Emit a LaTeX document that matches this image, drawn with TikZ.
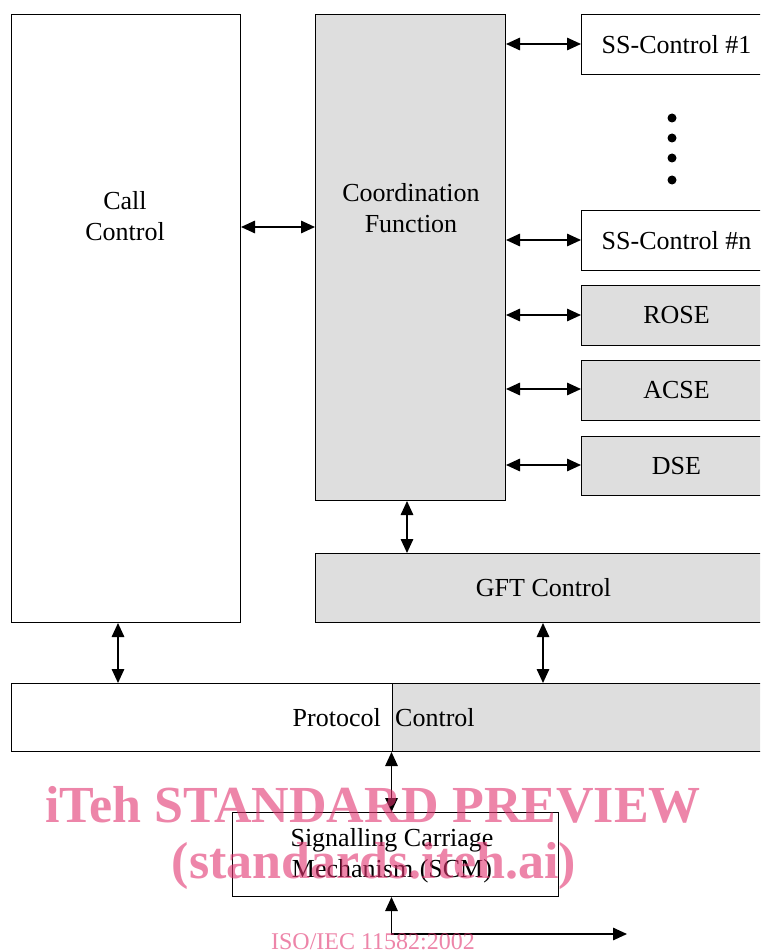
\documentclass[tikz,border=0pt]{standalone}
\usepackage{fontspec}
\setmainfont{Liberation Serif}
\usetikzlibrary{arrows.meta,calc}
\definecolor{boxgray}{RGB}{222,222,222}
\definecolor{wmpink}{RGB}{226,52,112}
\begin{document}
\begin{tikzpicture}[x=1pt,y=-1pt,
  box/.style={draw,line width=1pt,inner sep=0pt,anchor=north west,
    font=\fontsize{26}{31}\selectfont},
  gbox/.style={box,fill=boxgray},
  lbl/.style={font=\fontsize{26}{31}\selectfont,align=center,inner sep=0pt},
  dbl/.style={line width=1.5pt,{Triangle[length=14pt,width=12.5pt]}-{Triangle[length=14pt,width=12.5pt]}},
  dotm/.style={circle,fill=black,inner sep=0pt,minimum size=9pt},
  wm/.style={text=wmpink,text opacity=0.6,inner sep=0pt,anchor=base},
]
\clip (0,0) rectangle (760,952);
\fill[white] (0,0) rectangle (760,952);

% boxes
\node[box,minimum width=229pt,minimum height=608pt] (cc) at (11,14) {};
\node[gbox,minimum width=190pt,minimum height=486pt] (cf) at (315,14) {};
\node[box,minimum width=190pt,minimum height=60pt] (ss1) at (581,14) {SS-Control \#1};
\node[box,minimum width=190pt,minimum height=60pt] (ssn) at (581,210) {SS-Control \#n};
\node[gbox,minimum width=190pt,minimum height=60pt] (rose) at (581,285) {ROSE};
\node[gbox,minimum width=190pt,minimum height=60pt] (acse) at (581,360) {ACSE};
\node[gbox,minimum width=190pt,minimum height=59pt] (dse) at (581,436) {DSE};
\node[gbox,minimum width=456pt,minimum height=69pt] (gft) at (315,553) {GFT Control};
\node[box,minimum width=380.5pt,minimum height=68pt] (pcl) at (11,683) {};
\node[gbox,minimum width=380pt,minimum height=68pt] (pcr) at (391.5,683) {};
\node[box,minimum width=326pt,minimum height=84pt] (scm) at (232,812) {};

% texts
\node[lbl] (cctext) at (125,216) {Call\\Control};
\node[lbl] (cftext) at (411,208) {Coordination\\Function};
\node[lbl,anchor=base east] (pctext1) at (381,726) {Protocol};
\node[lbl,anchor=base west] (pctext2) at (395,726) {Control};
\node[lbl] (scmtext) at (392,856) {Signalling Carriage\\Mechanism (SCM)};

% dots
\node[dotm] (d1) at (672,118) {};
\node[dotm] (d2) at (672,138) {};
\node[dotm] (d3) at (672,158) {};
\node[dotm] (d4) at (672,180) {};

% coordinates for connector columns
\coordinate (xcc) at (118,0);
\coordinate (xcf) at (407,0);
\coordinate (xgft) at (543,0);
\coordinate (xpc) at (391.5,0);
\coordinate (ycc) at (0,227);
\coordinate (yss1) at (0,44);
\coordinate (yssn) at (0,240);
\coordinate (yrose) at (0,315);
\coordinate (yacse) at (0,389);
\coordinate (ydse) at (0,465);
\coordinate (corner) at (391.5,934);
\coordinate (outend) at (627,934);

% connectors
\draw[dbl] (cc.east |- ycc) -- (cf.west |- ycc);
\draw[dbl] (cf.east |- yss1) -- (ss1.west |- yss1);
\draw[dbl] (cf.east |- yssn) -- (ssn.west |- yssn);
\draw[dbl] (cf.east |- yrose) -- (rose.west |- yrose);
\draw[dbl] (cf.east |- yacse) -- (acse.west |- yacse);
\draw[dbl] (cf.east |- ydse) -- (dse.west |- ydse);
\draw[dbl] (cf.south -| xcf) -- (gft.north -| xcf);
\draw[dbl] (cc.south -| xcc) -- (pcl.north -| xcc);
\draw[dbl] (gft.south -| xgft) -- (pcr.north -| xgft);
\draw[dbl] (pcl.south -| xpc) -- (scm.north -| xpc);
\draw[dbl] (scm.south -| xpc) -- (corner) -- (outend);

% watermark
\node[wm,font=\fontsize{52}{60}\selectfont\bfseries] (wm1) at (373,822) {iTeh STANDARD PREVIEW};
\node[wm,font=\fontsize{52}{60}\selectfont\bfseries] (wm2) at (374,878) {(standards.iteh.ai)};
\node[wm,font=\fontsize{24}{28}\selectfont] (wm3) at (373,949) {ISO/IEC 11582:2002};
\end{tikzpicture}
\end{document}
